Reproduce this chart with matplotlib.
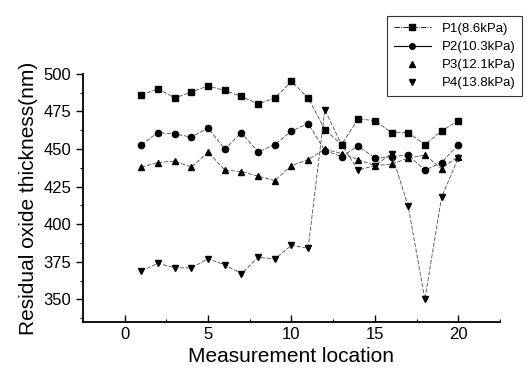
import matplotlib
matplotlib.use("Agg")
import matplotlib.pyplot as plt
from matplotlib.lines import Line2D
from matplotlib.ticker import MultipleLocator

# measurement locations
locations = list(range(1, 21))

# residual oxide thickness (nm) for each pressure
p1 = [486, 490, 484, 488, 492, 489, 485, 480, 484, 495, 484, 463, 453, 470, 469, 461, 461, 453, 462, 469]
p2 = [453, 461, 460, 458, 464, 450, 461, 448, 453, 462, 467, 449, 445, 452, 444, 445, 446, 436, 441, 453]
p3 = [438, 441, 442, 438, 448, 436, 435, 432, 429, 439, 443, 450, 447, 443, 439, 440, 444, 446, 437, 445]
p4 = [369, 374, 371, 371, 377, 373, 367, 378, 377, 386, 384, 476, 453, 436, 439, 447, 412, 350, 418, 444]

labels = ["P1(8.6kPa)", "P2(10.3kPa)", "P3(12.1kPa)", "P4(13.8kPa)"]
markers = ["s", "o", "^", "v"]

plt.rcParams['font.family'] = ['Liberation Sans', 'DejaVu Sans']

fig = plt.figure(figsize=(5.29, 3.81), dpi=100)
ax = fig.add_axes([0.157, 0.155, 0.788, 0.651])

for ys, m in zip([p1, p2, p3, p4], markers):
    ax.plot(locations, ys, color="0.3", lw=0.6, ls=(0, (5, 2)),
            marker=m, ms=4.5, mfc="black", mec="black")

ax.set_xlim(-2.5, 22.5)
ax.set_ylim(335, 500)
ax.xaxis.set_major_locator(MultipleLocator(5))
ax.xaxis.set_minor_locator(MultipleLocator(2.5))
ax.yaxis.set_major_locator(MultipleLocator(25))
ax.yaxis.set_minor_locator(MultipleLocator(12.5))
ax.tick_params(axis="x", which="both", direction="in", labelsize=12)
ax.tick_params(axis="y", which="both", direction="out", labelsize=12)
ax.tick_params(which="major", length=5, width=1)
ax.tick_params(which="minor", length=2.5, width=0.8)
for s in ["top", "right"]:
    ax.spines[s].set_visible(False)
for s in ["left", "bottom"]:
    ax.spines[s].set_linewidth(1.3)

ax.set_xlabel("Measurement location", fontsize=15)
ax.set_ylabel("Residual oxide thickness(nm)", fontsize=15)

handles = [
    Line2D([], [], color="black", lw=0.6, ls="-.", marker="s", ms=4),
    Line2D([], [], color="black", lw=0.8, ls="-", marker="o", ms=4),
    Line2D([], [], color="black", lw=0, marker="^", ms=4),
    Line2D([], [], color="black", lw=0, marker="v", ms=4),
]
leg = fig.legend(handles, labels, loc="upper right", bbox_to_anchor=(0.999, 0.975),
                 fontsize=9.5, frameon=True, fancybox=False, edgecolor="black",
                 handlelength=2.8, borderpad=0.5, labelspacing=0.45)
leg.get_frame().set_linewidth(0.8)

fig.savefig("out.png", dpi=100)
